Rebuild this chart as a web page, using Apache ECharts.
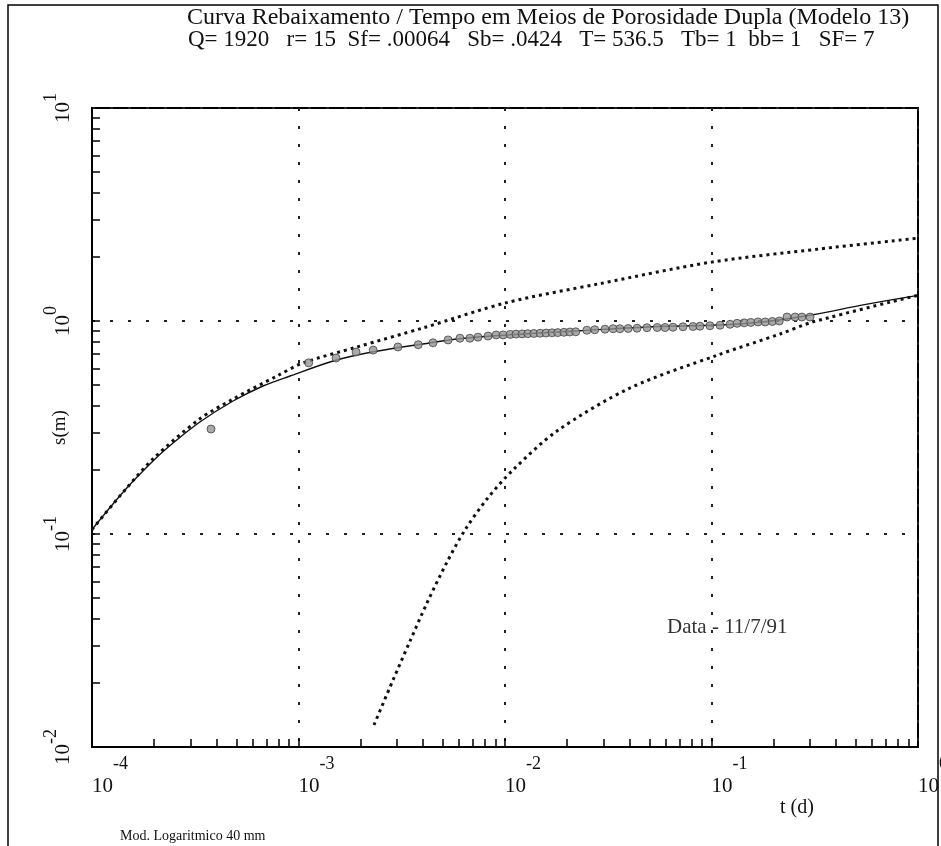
<!DOCTYPE html>
<html lang="pt">
<head>
  <meta charset="utf-8" />
  <title>Curva Rebaixamento / Tempo</title>
  <script src="https://cdn.jsdelivr.net/npm/echarts@6/dist/echarts.min.js"></script>
  <style>html, body { margin: 0; background: #fff; }</style>
</head>
<body>
  <div id="main" style="width: 941px;height:846px;"></div>
  <script>
    // observed drawdown (t in days, s in m)
    var obsT = [3.77e-4, 1.12e-3, 1.52e-3, 1.9e-3, 2.3e-3, 3.03e-3, 3.8e-3, 4.48e-3, 5.3e-3, 6.05e-3,
      6.76e-3, 7.4e-3, 8.28e-3, 9.06e-3, 9.8e-3, 0.0106, 0.0113, 0.0121, 0.0129, 0.0138,
      0.0148, 0.0158, 0.0169, 0.018, 0.0193, 0.0206, 0.022, 0.0249, 0.0272, 0.0305,
      0.0334, 0.036, 0.0395, 0.0436, 0.0487, 0.0546, 0.0596, 0.0651, 0.0728, 0.0814,
      0.0879, 0.0983, 0.11, 0.123, 0.133, 0.144, 0.155, 0.168, 0.182, 0.197,
      0.213, 0.232, 0.254, 0.274, 0.3];
    var obsS = [0.311, 0.636, 0.67, 0.715, 0.73, 0.755, 0.774, 0.79, 0.815, 0.83,
      0.83, 0.84, 0.85, 0.86, 0.86, 0.865, 0.868, 0.87, 0.872, 0.874,
      0.876, 0.878, 0.88, 0.882, 0.885, 0.888, 0.89, 0.905, 0.91, 0.915,
      0.92, 0.92, 0.922, 0.925, 0.93, 0.932, 0.932, 0.935, 0.94, 0.942,
      0.945, 0.95, 0.955, 0.965, 0.975, 0.98, 0.985, 0.99, 0.99, 0.995,
      1.0, 1.044, 1.044, 1.044, 1.044];

    // fitted dual porosity curve (solid)
    var fitT = [1e-4, 1.445e-4, 2.02e-4, 2.47e-4, 3.33e-4, 4.82e-4, 6.73e-4, 9.1e-4, 1.42e-3, 1.92e-3,
      2.77e-3, 4.0e-3, 5.86e-3, 0.0102, 0.023, 0.0487, 0.107, 0.177, 0.31, 0.542, 1];
    var fitS = [0.105, 0.161, 0.225, 0.2675, 0.3356, 0.4211, 0.4953, 0.5518, 0.642, 0.692,
      0.739, 0.78, 0.823, 0.86, 0.9, 0.937, 0.958, 0.99, 1.07, 1.19, 1.32];

    // fissure curve (upper dotted)
    var upT = [1e-4, 1.445e-4, 2.0e-4, 3.3e-4, 4.82e-4, 7.87e-4, 1.05e-3, 1.92e-3, 4.0e-3, 0.0102, 0.029, 0.1, 0.335, 1];
    var upS = [0.105, 0.161, 0.228, 0.345, 0.43, 0.552, 0.635, 0.755, 0.927, 1.22, 1.5, 1.89, 2.18, 2.45];

    // block curve (lower dotted)
    var loT = [2.32e-3, 2.87e-3, 3.47e-3, 4.19e-3, 5.24e-3, 6.4e-3, 8.18e-3, 0.01093, 0.01786, 0.0403, 0.107, 0.215, 0.31, 1];
    var loS = [0.01268, 0.02064, 0.03146, 0.04744, 0.07387, 0.1044, 0.146, 0.1998, 0.3046, 0.4846, 0.692, 0.869, 0.99, 1.32];

    var xDecades = [1e-4, 1e-3, 1e-2, 1e-1];
    var yDecades = [1e-2, 1e-1, 1];
    var tickMultipliers = [1, 2, 3, 4, 5, 6, 7, 8, 9];

    function pairs(xs, ys) {
      return xs.map(function (x, i) { return [x, ys[i]]; });
    }
    function minorTicks(decades) {
      var out = [];
      decades.forEach(function (d) {
        tickMultipliers.forEach(function (m) { out.push(+(d * m).toPrecision(3)); });
      });
      return out;
    }
    function expLabel(value) {
      var e = Math.round(Math.log(value) / Math.LN10);
      return '{b|10}{e|' + e + '}';
    }

    var serif = 'Liberation Serif';
    var ink = '#111';

    var chartDom = document.getElementById('main');
    var myChart = echarts.init(chartDom);
    var option = {
      backgroundColor: '#fff',
      animation: false,
      grid: {
        left: 92, top: 108, right: 23, bottom: 99,
        outerBoundsMode: 'none',
        show: true, borderColor: '#000', borderWidth: 2
      },
      xAxis: [
        {
          type: 'log', logBase: 10, min: 1e-4, max: 1, splitNumber: 4,
          axisLine: { show: true, lineStyle: { color: '#000', width: 2 } },
          axisTick: { show: false },
          axisLabel: {
            formatter: expLabel, align: 'left', margin: 8,
            rich: {
              b: { fontFamily: serif, fontSize: 21, color: ink, verticalAlign: 'bottom', lineHeight: 42 },
              e: { fontFamily: serif, fontSize: 18, color: ink, verticalAlign: 'top', lineHeight: 42 }
            }
          },
          splitLine: { show: true, lineStyle: { color: '#222', width: 2, type: [3, 15] } }
        },
        {
          type: 'log', logBase: 10, min: 1e-4, max: 1, position: 'bottom',
          axisLine: { show: false },
          axisTick: { show: true, inside: true, length: 8, customValues: minorTicks(xDecades), lineStyle: { color: '#000', width: 1.5 } },
          axisLabel: { show: false },
          splitLine: { show: false }
        }
      ],
      yAxis: [
        {
          type: 'log', logBase: 10, min: 0.01, max: 10, splitNumber: 3,
          name: 's(m)', nameLocation: 'middle', nameGap: 22, nameRotate: 90, nameMoveOverlap: false,
          nameTextStyle: { fontFamily: serif, fontSize: 19, color: ink },
          axisLine: { show: true, lineStyle: { color: '#000', width: 2 } },
          axisTick: { show: false },
          axisLabel: {
            formatter: expLabel, rotate: 90, margin: 18,
            rich: {
              b: { fontFamily: serif, fontSize: 21, color: ink, verticalAlign: 'bottom', lineHeight: 32 },
              e: { fontFamily: serif, fontSize: 18, color: ink, verticalAlign: 'top', lineHeight: 32 }
            }
          },
          splitLine: { show: true, lineStyle: { color: '#222', width: 2, type: [3, 15] } }
        },
        {
          type: 'log', logBase: 10, min: 0.01, max: 10, position: 'left',
          axisLine: { show: false },
          axisTick: { show: true, inside: true, length: 8, customValues: minorTicks(yDecades), lineStyle: { color: '#000', width: 1.5 } },
          axisLabel: { show: false },
          splitLine: { show: false }
        }
      ],
      series: [
        {
          name: 'fissuras', type: 'line', data: pairs(upT, upS), smooth: 0.3,
          showSymbol: false, silent: true,
          lineStyle: { color: ink, width: 3, type: [3, 4], cap: 'butt' }
        },
        {
          name: 'blocos', type: 'line', data: pairs(loT, loS), smooth: 0.3,
          showSymbol: false, silent: true,
          lineStyle: { color: ink, width: 3, type: [3, 4], cap: 'butt' }
        },
        {
          name: 'modelo', type: 'line', data: pairs(fitT, fitS), smooth: 0.3,
          showSymbol: false, silent: true,
          lineStyle: { color: ink, width: 1.4 }
        },
        {
          name: 'observado', type: 'scatter', data: pairs(obsT, obsS),
          symbol: 'circle', symbolSize: 8, z: 5,
          itemStyle: { color: '#959595', borderColor: '#444', borderWidth: 1 }
        }
      ],
      graphic: [
        { type: 'rect', shape: { x: 8, y: 5, width: 930, height: 860 }, style: { fill: null, stroke: '#000', lineWidth: 1.5 } },
        { type: 'text', left: 187, top: 6, style: { text: 'Curva Rebaixamento / Tempo em Meios de Porosidade Dupla (Modelo 13)', font: '24px "Liberation Serif"', fill: ink } },
        { type: 'text', left: 188, top: 28, style: { text: 'Q= 1920   r= 15  Sf= .00064   Sb= .0424   T= 536.5   Tb= 1  bb= 1   SF= 7', font: '23px "Liberation Serif"', fill: ink } },
        { type: 'text', left: 780, top: 798, style: { text: 't (d)', font: '20px "Liberation Serif"', fill: ink } },
        { type: 'text', left: 667, top: 617, style: { text: 'Data - 11/7/91', font: '21px "Liberation Serif"', fill: '#333' } },
        { type: 'text', left: 120, top: 829, style: { text: 'Mod. Logaritmico 40 mm', font: '14px "Liberation Serif"', fill: ink } }
      ]
    };
    myChart.setOption(option);
  </script>
</body>
</html>
